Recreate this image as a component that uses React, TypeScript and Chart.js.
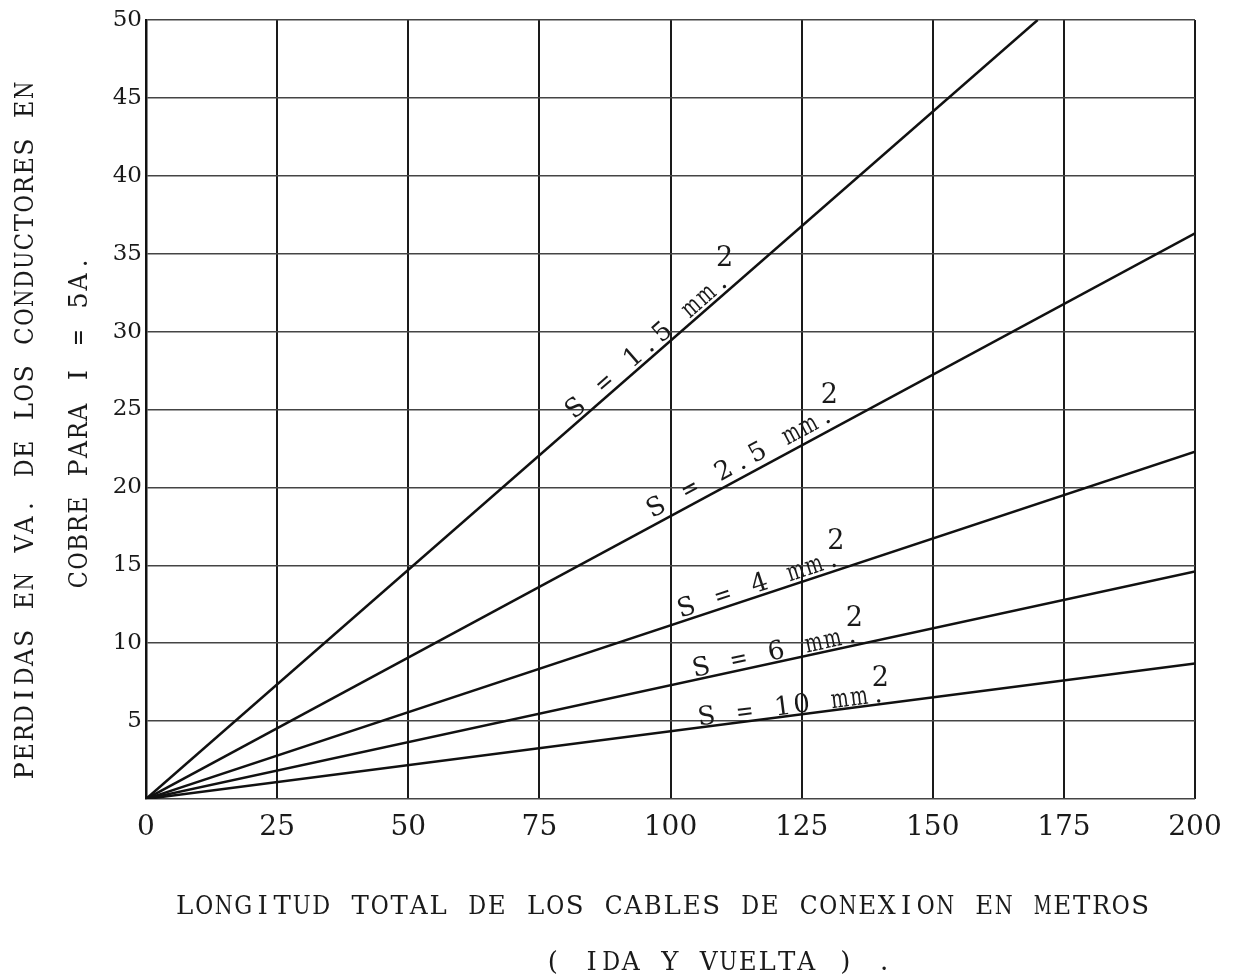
import React, { useEffect, useRef } from "react";
import { Chart, registerables } from "chart.js";

Chart.register(...registerables);

// ---- data ----
const xTickValues = [0, 25, 50, 75, 100, 125, 150, 175, 200];
const yTickValues = [5, 10, 15, 20, 25, 30, 35, 40, 45, 50];
const sections = ["1.5", "2.5", "4", "6", "10"];
const lineEndX = [170, 200, 200, 200, 200];
const lineEndY = [50, 36.3, 22.3, 14.6, 8.7];
const labelStartX = [82, 97, 102, 104.5, 105.3];
const labelLift = [4, 7, 4, 3, 2];
const xTitleLines = [
  "LONGITUD TOTAL DE LOS CABLES DE CONEXION EN METROS",
  "( IDA Y VUELTA ) .",
];
const yTitleLines = [
  "PERDIDAS EN VA. DE LOS CONDUCTORES EN",
  "COBRE PARA I = 5A.",
];

const FONT = '"DejaVu Serif", "Liberation Serif", serif';
const INK = "#1a1a1a";
const PITCH = 19.2;

// typewriter-style: every character in a fixed-width cell, wide glyphs squeezed
function drawMono(ctx: CanvasRenderingContext2D, text: string, x: number, y: number, pitch: number) {
  const prevAlign = ctx.textAlign;
  ctx.textAlign = "center";
  const maxW = pitch * 0.92;
  for (let i = 0; i < text.length; i++) {
    const c = text[i];
    if (c === " ") continue;
    const cx = x + (i + 0.5) * pitch;
    const gw = ctx.measureText(c).width;
    if (gw > maxW) {
      const k = maxW / gw;
      ctx.save();
      ctx.translate(cx, y);
      ctx.scale(k, 1);
      ctx.fillText(c, 0, 0);
      ctx.restore();
    } else {
      ctx.fillText(c, cx, y);
    }
  }
  ctx.textAlign = prevAlign;
}

const lineLabelPlugin = {
  id: "lineLabels",
  afterDatasetsDraw(chart: any) {
    const { ctx } = chart;
    const xs = chart.scales.x;
    const ys = chart.scales.y;
    sections.forEach((s, i) => {
      const x0 = xs.getPixelForValue(0);
      const y0 = ys.getPixelForValue(0);
      const x1 = xs.getPixelForValue(lineEndX[i]);
      const y1 = ys.getPixelForValue(lineEndY[i]);
      const ang = Math.atan2(y1 - y0, x1 - x0);
      const sx = labelStartX[i];
      const sy = (lineEndY[i] / lineEndX[i]) * sx;
      const px = xs.getPixelForValue(sx);
      const py = ys.getPixelForValue(sy);
      const txt = `S = ${s} mm.`;
      const w = txt.length * PITCH;
      const lift = labelLift[i];
      ctx.save();
      ctx.fillStyle = INK;
      ctx.font = `26px ${FONT}`;
      ctx.textBaseline = "alphabetic";
      ctx.translate(px, py);
      ctx.rotate(ang);
      drawMono(ctx, txt, 0, -lift, PITCH);
      ctx.restore();
      const ex = px + w * Math.cos(ang) + lift * Math.sin(ang);
      const ey = py + w * Math.sin(ang) - lift * Math.cos(ang);
      ctx.save();
      ctx.fillStyle = INK;
      ctx.font = `27px ${FONT}`;
      ctx.textAlign = "center";
      ctx.textBaseline = "middle";
      ctx.fillText("2", ex - 8, ey - 22);
      ctx.restore();
    });
  },
};

const titlePlugin = {
  id: "axisTitles",
  afterDraw(chart: any) {
    const { ctx, chartArea } = chart;
    const midY = (chartArea.top + chartArea.bottom) / 2;
    ctx.save();
    ctx.fillStyle = INK;
    ctx.font = `26px ${FONT}`;
    ctx.textBaseline = "middle";
    const yCenters = [
      [chartArea.left - 120, midY + 21],
      [chartArea.left - 66, midY + 12],
    ];
    yTitleLines.forEach((t, i) => {
      const p = i === 0 ? 18.9 : 18.6;
      ctx.save();
      ctx.translate(yCenters[i][0], yCenters[i][1]);
      ctx.rotate(-Math.PI / 2);
      drawMono(ctx, t, -(t.length * p) / 2, 0, p);
      ctx.restore();
    });
    drawMono(ctx, xTitleLines[0], chartArea.left + 29, chartArea.bottom + 108, 19.5);
    drawMono(ctx, xTitleLines[1], chartArea.left + 397, chartArea.bottom + 164, 19.5);
    ctx.restore();
  },
};

export default function App() {
  const canvasRef = useRef<HTMLCanvasElement | null>(null);

  useEffect(() => {
    document.body.style.margin = "0";
    const canvas = canvasRef.current;
    if (!canvas) return;
    const datasets = sections.map((s, i) => ({
      label: `S = ${s} mm2`,
      data: [
        { x: 0, y: 0 },
        { x: lineEndX[i], y: lineEndY[i] },
      ],
      borderColor: "#111",
      borderWidth: 2.5,
      pointRadius: 0,
      fill: false,
      tension: 0,
    }));
    const chart = new Chart(canvas, {
      type: "line",
      data: { datasets },
      options: {
        animation: false,
        responsive: false,
        devicePixelRatio: 1,
        layout: { padding: { left: 0, right: 48, top: 20, bottom: 116 } },
        plugins: {
          legend: { display: false },
          tooltip: { enabled: false },
        },
        scales: {
          x: {
            type: "linear",
            min: 0,
            max: 200,
            afterBuildTicks: (axis: any) => {
              axis.ticks = xTickValues.map((v) => ({ value: v }));
            },
            afterFit: (axis: any) => {
              axis.height = 60;
            },
            grid: {
              color: "#1a1a1a",
              lineWidth: 2,
              drawTicks: false,
            },
            border: { display: false },
            ticks: {
              color: INK,
              padding: 12,
              font: { family: FONT, size: 28 },
              maxRotation: 0,
              autoSkip: false,
            },
          },
          y: {
            type: "linear",
            min: 0,
            max: 50,
            afterBuildTicks: (axis: any) => {
              axis.ticks = [0, ...yTickValues].map((v) => ({ value: v }));
            },
            afterFit: (axis: any) => {
              axis.width = 146;
            },
            grid: {
              color: "#444",
              lineWidth: 1.5,
              drawTicks: false,
            },
            border: { display: true, color: "#111", width: 2.5 },
            ticks: {
              color: INK,
              padding: 4,
              font: { family: FONT, size: 23 },
              autoSkip: false,
              callback: (v: any) => (v === 0 ? "" : String(v)),
            },
          },
        },
      },
      plugins: [lineLabelPlugin, titlePlugin],
    });
    return () => chart.destroy();
  }, []);

  return (
    <canvas
      ref={canvasRef}
      width={1243}
      height={975}
      style={{ display: "block", width: 1243, height: 975, background: "#fff" }}
    />
  );
}
